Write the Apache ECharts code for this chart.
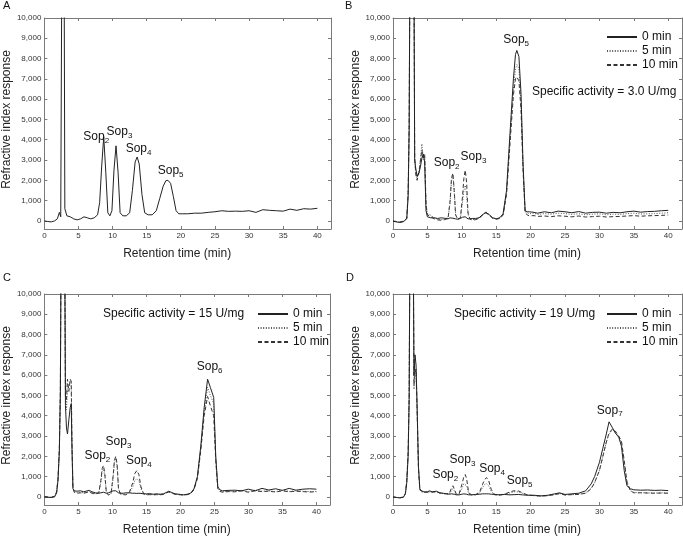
<!DOCTYPE html>
<html>
<head>
<meta charset="utf-8">
<script src="https://cdn.jsdelivr.net/npm/echarts@6/dist/echarts.min.js"></script>
<style>html,body{margin:0;padding:0;background:#fff}#c{width:683px;height:537px}</style>
</head>
<body>
<div id="c"></div>
<script>
// ---------- data ----------
const xTicks = [0, 5, 10, 15, 20, 25, 30, 35, 40];
const yTicks = [0, 1000, 2000, 3000, 4000, 5000, 6000, 7000, 8000, 9000, 10000];
const seriesNames = ['0 min', '5 min', '10 min'];

// Panel A (single trace)
const tA = [0,0.5,1,1.5,1.9, 2.2,2.4,2.55,2.9,3.0, 3.3,3.8,4.3,4.8,5.3, 5.8,6.3,6.8,7.3,7.8,
  8.1,8.4,8.7,9.0,9.3, 9.6,9.9,10.2,10.5,10.8, 11.1,11.5,12.0,12.5,12.9, 13.3,13.6,13.9,14.3,14.7,
  15.2,15.8,16.4,16.9,17.4, 17.8,18.1,18.5,18.9,19.3, 19.7,20.2,21,22,23, 24,25,26,27,28,
  29,30,31,32,33, 34,35,36,37,38, 39,40];
const yA = [0,-30,-50,0,100, 420,200,12000,12000,600, 250,200,100,50,100, 200,150,100,150,300,
  900,2700,4150,2400,400, 250,500,2500,3700,2400, 400,250,250,400,1500, 2900,3150,2800,1300,400,
  300,300,500,1100,1700, 1980,2000,1850,1200,500, 350,350,350,380,380, 420,450,500,470,480,
  470,500,420,550,520, 500,480,580,520,600, 580,620];

// Panel B
const tB = [0,0.5,1,1.5,2, 2.2,2.35,2.45, 3.05,3.15,3.3,3.5,3.8, 4.0,4.2,4.4,4.6,4.8, 5.0,5.5,6,6.5,7,
  7.5,8.0,8.3,8.5,8.7, 8.9,9.1,9.4,9.8,10.1, 10.3,10.5,10.7,10.9,11.2, 11.6,12,12.5,13,13.5,
  14,14.5,15,15.5,16, 16.5,17,17.5,17.8,18.0, 18.3,18.6,18.9,19.2,19.5, 19.8,20.5,21,22,23,
  24,25,26,27,28, 29,30,31,32,33, 34,35,36,37,38, 39,40];
const b0 = [-20,-50,-80,-40,100, 1200,4500,12000, 12000,3000,2600,2200,2400, 2700,3100,3300,2900,500, 200,150,150,120,150,
  130,100,150,150,130, 120,100,80,120,180, 220,200,150,100,100, 120,120,150,300,420,
  300,150,100,150,350, 1500,4300,7000,8200,8400, 8100,6300,2800,500,450, 450,420,380,450,400,
  480,450,400,460,380, 420,430,380,420,400, 450,480,430,460,470, 500,520];
const b5 = [-10,-40,-60,-30,120, 1300,4600,12000, 12000,3100,2400,2100,2500, 3100,3800,3000,3200,700, 350,280,150,80,60,
  100,150,900,2000,2300, 1400,300,100,150,900, 1500,1750,1300,300,100, 60,80,150,300,450,
  300,150,100,150,300, 1400,4000,6500,7500,7700, 7500,5900,2600,450,400, 350,380,320,360,330,
  380,360,320,350,300, 330,350,300,330,320, 360,380,340,350,360, 380,400];
const b10 = [0,-30,-50,-20,130, 1400,4700,12000, 12000,3200,2300,2000,2400, 3000,3500,3100,3300,800, 300,200,100,50,30,
  60,120,1000,2100,2350, 1500,300,80,150,1200, 2100,2500,1900,400,80, 40,60,120,280,400,
  280,120,80,120,280, 1300,3800,6200,7000,7100, 6900,5500,2500,400,300, 250,260,220,240,210,
  250,230,200,240,190, 210,230,190,210,220, 240,260,230,250,260, 270,290];

// Panel C
const tC = [0,0.5,1,1.5,1.8, 2.0,2.2,2.35,2.45,3.0, 3.1,3.25,3.4,3.6,3.8, 3.95,4.05,4.2,4.4,4.8,
  5.3,5.8,6.3,6.6,7.0, 7.5,8.0,8.3,8.5,8.7, 8.9,9.1,9.4,9.8,10.1, 10.3,10.5,10.7,10.9,11.2,
  11.6,12,12.5,13.0,13.3, 13.6,13.9,14.2,14.6,15, 15.5,16,16.5,17,17.5, 18,18.3,18.7,19.2,20,
  20.5,21,21.5,22,22.5, 23,23.5,24,24.4,24.9, 25.2,25.5,25.8,26.2,27, 28,29,30,31,32,
  33,34,35,36,37, 38,39,40];
const c0 = [0,-20,-30,0,200, 800,2200,5000,12000,12000, 4500,3400,3100,3800,4400, 4600,2500,400,300,280,
  300,250,300,320,250, 200,180,200,250,230, 200,180,200,250,300, 330,300,250,200,180,
  180,200,200,180,180, 170,180,170,150,150, 160,130,150,130,150, 230,280,220,150,120,
  100,130,180,400,1000, 2500,4400,5800,5400,4900, 2000,500,350,300,320, 330,300,380,300,420,
  340,400,320,420,330, 380,400,380];
const c5 = [0,-10,-20,20,220, 850,2300,5100,12000,12000, 5800,4300,5300,5500,5700, 5600,3000,500,250,200,
  230,200,250,260,200, 150,200,700,1300,1400, 1000,250,100,150,900, 1700,1900,1500,400,150,
  130,120,200,500,800, 900,800,400,150,120, 130,110,130,120,140, 220,260,200,140,110,
  100,120,170,380,950, 2400,4200,5400,5000,4600, 1900,450,300,250,280, 260,320,250,340,280,
  300,260,330,270,300, 280,260,270];
const c10 = [10,0,-20,30,250, 900,2400,5200,12000,12000, 5000,4800,5800,5200,5800, 5700,2800,450,220,180,
  200,180,220,240,180, 140,200,800,1400,1550, 1100,250,90,150,1000, 1800,2000,1600,400,130,
  110,100,220,700,1150, 1300,1100,500,150,100, 110,100,110,100,120, 200,240,190,130,100,
  90,110,160,350,900, 2300,4000,4950,4500,4000, 1800,400,270,230,260, 250,300,230,300,260,
  280,240,300,250,280, 260,240,250];

// Panel D
const tD = [0,0.5,1,1.5,1.8, 2.0,2.2,2.35,2.45,2.95, 3.05,3.2,3.35,3.5,3.7, 3.9,4.1,4.5,5.0,5.3,
  5.7,6.3,6.8,7.3,7.8, 8.2,8.5,8.7,8.9,9.2, 9.6,10.0,10.3,10.5,10.7, 11.0,11.4,12,12.6,13.0,
  13.3,13.6,13.9,14.3,14.8, 15.5,16.2,17,17.6,18.2, 18.8,19.5,20.5,21.5,22.5, 23.5,24.2,25,26,27,
  28,28.8,29.3,30,30.5, 31,31.4,31.9,32.3,32.8, 33.2,33.6,34,34.5,35, 36,37,38,39,40];
const d0 = [0,-30,-50,-20,150, 700,2000,4800,12000,12000, 6000,7000,6500,4500,1500, 400,300,250,250,300,
  250,280,200,180,150, 130,150,150,130,100, 100,130,150,150,130, 100,100,120,130,150,
  150,150,150,130,120, 100,120,100,110,120, 100,80,80,50,80, 150,200,120,150,180,
  300,640,1000,1700,2400, 3100,3700,3400,3150,2950, 2500,1300,550,400,350, 330,340,320,330,310];
const d5 = [10,-20,-40,-10,160, 750,2100,4900,12000,12000, 5300,6300,6000,4300,1400, 350,250,220,220,250,
  220,250,180,160,140, 150,300,400,300,120, 120,400,650,700,550, 150,100,100,200,450,
  600,650,550,250,100, 100,130,200,250,250, 180,100,60,40,60, 120,170,100,120,130,
  200,420,700,1300,2000, 2700,3100,3300,3200,2950, 2700,1700,700,300,220, 210,200,190,200,190];
const d10 = [0,-30,-40,-10,170, 800,2200,5000,12000,12000, 5500,6100,6300,4400,1400, 350,260,230,230,260,
  230,260,190,170,150, 180,450,550,400,130, 150,600,1000,1100,900, 200,110,100,250,600,
  850,950,800,350,100, 90,130,250,300,300, 200,100,60,40,60, 110,160,90,110,120,
  180,400,700,1300,2000, 2700,3150,3350,3250,3000, 2750,1800,750,300,200, 200,190,180,190,180];

// Peak labels: [time, response, subscript]
const sopA = [[7.6, 4160, '2'], [11.0, 4400, '3'], [13.8, 3560, '4'], [18.5, 2490, '5']];
const sopB = [[7.8, 2880, '2'], [11.7, 3180, '3'], [17.9, 8920, '5']];
const sopC = [[7.8, 2020, '2'], [10.9, 2730, '3'], [13.9, 1800, '4'], [24.3, 6400, '6']];
const sopD = [[7.6, 1110, '2'], [10.1, 1830, '3'], [14.4, 1400, '4'], [18.4, 780, '5'], [31.5, 4270, '7']];

const activityB = 'Specific activity = 3.0 U/mg';
const activityC = 'Specific activity = 15 U/mg';
const activityD = 'Specific activity = 19 U/mg';
const axisXTitle = 'Retention time (min)';
const axisYTitle = 'Refractive index response';

// ---------- chart ----------
const FONT = '"Liberation Sans", Arial, Helvetica, sans-serif';
const grids = [
  {left: 42, top: 18, width: 289, height: 211},
  {left: 393, top: 18, width: 289, height: 211},
  {left: 41, top: 294, width: 289, height: 212},
  {left: 393, top: 294, width: 289, height: 212}
];
const frameColor = '#7a7a7a';
const fmt = v => String(v).replace(/\B(?=(\d{3})+(?!\d))/g, ',');

const xAxes = [], yAxes = [];
grids.forEach((g, i) => {
  xAxes.push({
    gridIndex: i, type: 'value', min: 0, max: 42, position: 'bottom',
    axisLine: {show: true, onZero: false, lineStyle: {color: frameColor, width: 1}},
    axisTick: {show: true, inside: true, length: 3, customValues: xTicks, lineStyle: {color: frameColor}},
    axisLabel: {show: true, customValues: xTicks, fontSize: 8, color: '#333', margin: 3, fontFamily: FONT},
    splitLine: {show: false},
    name: axisXTitle, nameLocation: 'middle', nameGap: 19,
    nameTextStyle: {fontSize: 12, color: '#222', fontFamily: FONT, padding: [0, 21, 0, 0]}
  });
  xAxes.push({
    gridIndex: i, type: 'value', min: 0, max: 42, position: 'top',
    axisLine: {show: true, onZero: false, lineStyle: {color: frameColor, width: 1}},
    axisTick: {show: true, inside: true, length: 3, customValues: xTicks, lineStyle: {color: frameColor}},
    axisLabel: {show: false}, splitLine: {show: false}
  });
  yAxes.push({
    gridIndex: i, type: 'value', min: -400, max: 10000, position: 'left',
    axisLine: {show: true, onZero: false, lineStyle: {color: frameColor, width: 1}},
    axisTick: {show: true, inside: true, length: 3, customValues: yTicks, lineStyle: {color: frameColor}},
    axisLabel: {show: true, customValues: yTicks, fontSize: 8, color: '#333', margin: 3, fontFamily: FONT, formatter: fmt},
    splitLine: {show: false},
    name: axisYTitle, nameLocation: 'middle', nameGap: 27,
    nameTextStyle: {fontSize: 12, color: '#222', fontFamily: FONT, padding: [0, 0, 0, 8]}
  });
  yAxes.push({
    gridIndex: i, type: 'value', min: -400, max: 10000, position: 'right',
    axisLine: {show: true, onZero: false, lineStyle: {color: frameColor, width: 1}},
    axisTick: {show: true, inside: true, length: 3, customValues: yTicks, lineStyle: {color: frameColor}},
    axisLabel: {show: false}, splitLine: {show: false}
  });
});

const styles = [
  {color: '#222', width: 1, type: 'solid'},
  {color: '#555', width: 1, type: [1, 1.6]},
  {color: '#333', width: 1, type: [4, 2.5]}
];

const rich = {
  a: {fontSize: 12, lineHeight: 14, color: '#111', fontFamily: FONT},
  b: {fontSize: 8, lineHeight: 8, padding: [8, 0, 0, 0], color: '#111', fontFamily: FONT}
};
function markFor(labels) {
  return {
    symbol: 'circle', symbolSize: 0, silent: true, animation: false,
    label: {show: true, position: 'inside', formatter: p => '{a|Sop}{b|' + p.name + '}', rich: rich},
    data: labels.map(l => ({name: l[2], coord: [l[0], l[1]], value: l[1]}))
  };
}
function line(name, t, v, gi, styleIdx, labels) {
  const s = {
    type: 'line', name: name, xAxisIndex: gi * 2, yAxisIndex: gi * 2,
    data: t.map((x, k) => [x, v[k]]), symbol: 'none', showSymbol: false,
    lineStyle: styles[styleIdx], itemStyle: {color: styles[styleIdx].color},
    clip: true, animation: false, z: 3 - styleIdx
  };
  if (labels) s.markPoint = markFor(labels);
  return s;
}

const series = [
  line('trace', tA, yA, 0, 0, sopA),
  line('0 min', tB, b0, 1, 0, sopB), line('5 min', tB, b5, 1, 1), line('10 min', tB, b10, 1, 2),
  line('0 min', tC, c0, 2, 0, sopC), line('5 min', tC, c5, 2, 1), line('10 min', tC, c10, 2, 2),
  line('0 min', tD, d0, 3, 0, sopD), line('5 min', tD, d5, 3, 1), line('10 min', tD, d10, 3, 2)
];

function legendAt(left, top) {
  return {
    data: seriesNames, left: left, top: top, orient: 'vertical', align: 'left',
    itemWidth: 30, itemHeight: 14, itemGap: 2, padding: 0, selectedMode: false,
    itemStyle: {opacity: 0, borderWidth: 0},
    textStyle: {fontSize: 12, color: '#111', fontFamily: FONT}
  };
}
function textAt(txt, left, top, size) {
  return {text: txt, left: left, top: top, padding: 0,
    textStyle: {fontSize: size, fontWeight: 'normal', color: '#111', fontFamily: FONT}};
}

const option = {
  animation: false,
  backgroundColor: '#fff',
  grid: grids,
  xAxis: xAxes,
  yAxis: yAxes,
  legend: [legendAt(606, 31), legendAt(257, 308), legendAt(606, 308)],
  title: [
    textAt('A', 3, 0, 11), textAt('B', 345, 0, 11), textAt('C', 3, 272, 11), textAt('D', 346, 272, 11),
    textAt(activityB, 532, 86, 12), textAt(activityC, 103, 308, 12), textAt(activityD, 454, 308, 12)
  ],
  series: series
};
const chart = echarts.init(document.getElementById('c'), null, {renderer: 'canvas'});
chart.setOption(option);
</script>
</body>
</html>
